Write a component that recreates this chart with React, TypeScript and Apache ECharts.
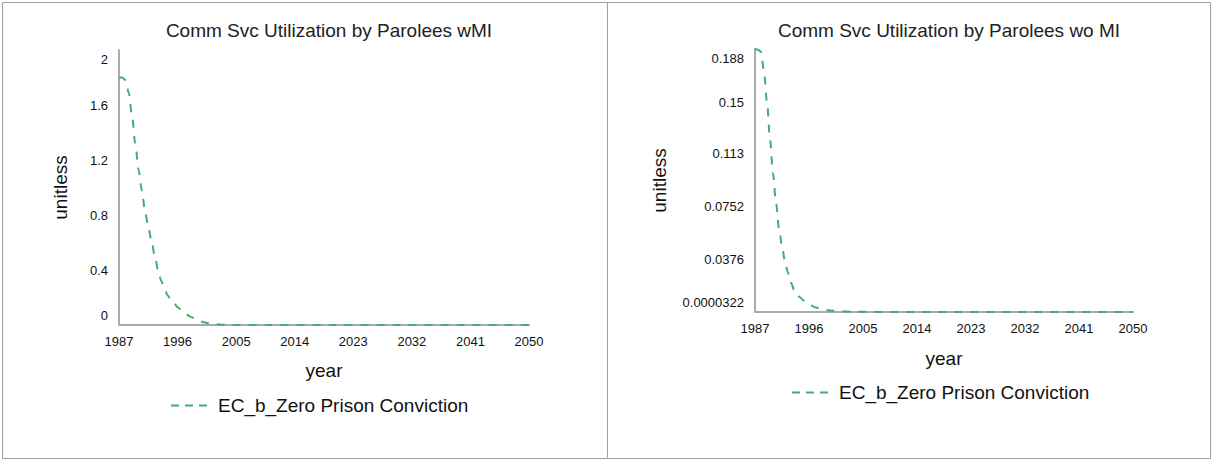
import React, { useEffect, useRef } from "react";
import * as echarts from "echarts";

const FONT = "'Liberation Sans', Arial, sans-serif";
const SERIES_NAME = "EC_b_Zero Prison Conviction";
const TITLES = [
  "Comm Svc Utilization by Parolees wMI",
  "Comm Svc Utilization by Parolees wo MI",
];
const X_NAME = "year";
const Y_NAME = "unitless";

const X_TICKS = [1987, 1996, 2005, 2014, 2023, 2032, 2041, 2050];
const LEFT_Y_TICKS = ["0", "0.4", "0.8", "1.2", "1.6", "2"];
const RIGHT_Y_TICKS = ["0.0000322", "0.0376", "0.0752", "0.113", "0.15", "0.188"];

const LEFT_YEARS = [
  1987, 1987.5, 1988, 1988.5, 1989, 1989.5, 1990, 1990.5, 1991, 1991.5, 1992,
  1992.5, 1993, 1993.5, 1994, 1994.5, 1995, 1995.5, 1996, 1997, 1998, 1999,
  2000, 2001, 2002, 2003, 2004, 2005, 2010, 2020, 2030, 2040, 2050,
];
const LEFT_VALUES = [
  1.8, 1.8, 1.78, 1.69, 1.52, 1.32, 1.13, 0.98, 0.83, 0.71, 0.61,
  0.5, 0.4, 0.32, 0.26, 0.215, 0.18, 0.155, 0.13, 0.09, 0.06, 0.038,
  0.02, 0.01, 0.005, 0.002, 0.001, 0.0005, 0.0001, 0, 0, 0, 0,
];

const RIGHT_YEARS = [
  1987, 1987.5, 1988, 1988.5, 1989, 1989.5, 1990, 1990.5, 1991, 1991.5, 1992,
  1992.5, 1993, 1993.5, 1994, 1994.5, 1995, 1995.5, 1996, 1997, 1998, 1999,
  2000, 2001, 2002, 2003, 2004, 2005, 2010, 2020, 2030, 2040, 2050,
];
const RIGHT_VALUES = [
  0.188, 0.1875, 0.186, 0.172, 0.15, 0.124, 0.099, 0.078, 0.06, 0.047, 0.036,
  0.028, 0.021, 0.016, 0.0125, 0.0105, 0.0085, 0.007, 0.0055, 0.0035, 0.0022, 0.0014,
  0.0009, 0.0006, 0.0004, 0.00028, 0.0002, 0.00015, 0.00008, 0.00005, 0.00004, 0.000035, 0.0000322,
];

const LINE_COLOR = "#3fae6f";
const AXIS_COLOR = "#ababab";
const TEXT_COLOR = "#111111";

function xAxisOf(gridIndex: number, nameGap: number) {
  return {
    type: "value",
    gridIndex,
    min: X_TICKS[0],
    max: X_TICKS[X_TICKS.length - 1],
    name: X_NAME,
    nameLocation: "middle",
    nameGap,
    nameTextStyle: { fontSize: 19, color: TEXT_COLOR, fontFamily: FONT },
    axisLine: { show: true, onZero: false, lineStyle: { color: AXIS_COLOR, width: 2 } },
    axisTick: { show: false },
    splitLine: { show: false },
    axisLabel: {
      customValues: X_TICKS,
      margin: 10,
      fontSize: 13,
      color: TEXT_COLOR,
      fontFamily: FONT,
      formatter: (v: number) => String(v),
    },
  };
}

function yAxisOf(gridIndex: number, ticks: string[], nameGap: number) {
  const vals = ticks.map((t) => parseFloat(t));
  const mn = vals[0];
  const mx = vals[vals.length - 1];
  return {
    type: "value",
    gridIndex,
    min: mn,
    max: mx,
    name: Y_NAME,
    nameLocation: "middle",
    nameRotate: 90,
    nameGap,
    nameTextStyle: { fontSize: 19, color: TEXT_COLOR, fontFamily: FONT },
    axisLine: { show: true, onZero: false, lineStyle: { color: AXIS_COLOR, width: 2 } },
    axisTick: { show: false },
    splitLine: { show: false },
    axisLabel: {
      customValues: vals,
      margin: 11,
      fontSize: 13,
      lineHeight: 19,
      color: TEXT_COLOR,
      fontFamily: FONT,
      formatter: (v: number) => {
        const i = vals.findIndex((x) => Math.abs(x - v) < 1e-12);
        const s = i >= 0 ? ticks[i] : String(v);
        if (i === 0) return s + "\n ";
        if (i === vals.length - 1) return " \n" + s;
        return s;
      },
    },
  };
}

function seriesOf(idx: number, years: number[], values: number[]) {
  return {
    type: "line",
    name: SERIES_NAME,
    xAxisIndex: idx,
    yAxisIndex: idx,
    data: years.map((y, i) => [y, values[i]]),
    symbol: "none",
    showSymbol: false,
    smooth: 0.3,
    smoothMonotone: "x",
    lineStyle: { color: LINE_COLOR, width: 2, type: [8, 8] },
    itemStyle: { color: LINE_COLOR },
  };
}

function legendOf(left: number, top: number) {
  return {
    left,
    top,
    orient: "horizontal",
    itemWidth: 42,
    itemHeight: 14,
    data: [SERIES_NAME],
    selectedMode: false,
    itemStyle: { color: "rgba(0,0,0,0)", borderColor: "rgba(0,0,0,0)", borderWidth: 0 },
    lineStyle: { color: LINE_COLOR, width: 2, type: [8, 6] },
    textStyle: { fontSize: 19, color: TEXT_COLOR, fontFamily: FONT },
  };
}

export default function App() {
  const ref = useRef<HTMLDivElement>(null);
  useEffect(() => {
    if (!ref.current) return;
    const chart = echarts.init(ref.current, undefined, { renderer: "svg" });
    const titleStyle = { fontSize: 19, fontWeight: "normal", color: "#222", fontFamily: FONT };
    chart.setOption({
      animation: false,
      backgroundColor: "#ffffff",
      title: [
        { text: TITLES[0], left: 324, top: 16, textAlign: "center", textStyle: titleStyle },
        { text: TITLES[1], left: 944, top: 16, textAlign: "center", textStyle: titleStyle },
      ],
      grid: [
        { left: 119, top: 50, width: 410, height: 275 },
        { left: 755, top: 49, width: 378, height: 263 },
      ],
      xAxis: [xAxisOf(0, 36), xAxisOf(1, 37)],
      yAxis: [yAxisOf(0, LEFT_Y_TICKS, 49), yAxisOf(1, RIGHT_Y_TICKS, 86)],
      legend: [legendOf(165, 391), legendOf(786, 378)],
      graphic: [
        {
          type: "rect",
          shape: { x: 2.5, y: 2.5, width: 605, height: 456 },
          style: { fill: "none", stroke: "#a0a0a0", lineWidth: 1 },
          silent: true,
        },
        {
          type: "rect",
          shape: { x: 607.5, y: 2.5, width: 603, height: 456 },
          style: { fill: "none", stroke: "#a0a0a0", lineWidth: 1 },
          silent: true,
        },
      ],
      series: [seriesOf(0, LEFT_YEARS, LEFT_VALUES), seriesOf(1, RIGHT_YEARS, RIGHT_VALUES)],
    });
    return () => chart.dispose();
  }, []);
  return (
    <div
      ref={ref}
      style={{ position: "fixed", left: 0, top: 0, width: 1212, height: 461, background: "#fff" }}
    />
  );
}
